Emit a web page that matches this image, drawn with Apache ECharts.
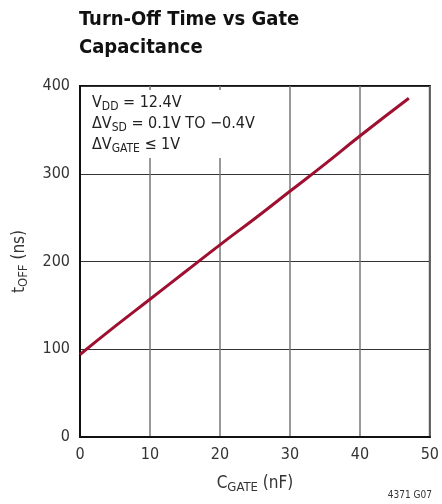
<!DOCTYPE html>
<html>
<head>
<meta charset="utf-8">
<script src="https://cdn.jsdelivr.net/npm/echarts@6/dist/echarts.min.js"></script>
<style>
  html, body { margin: 0; padding: 0; background: #fff; }
  #chart { width: 442px; height: 504px; }
</style>
</head>
<body>
<div id="chart"></div>
<script>
// gate capacitance (nF) vs turn-off time (ns)
var cGate = [0, 5, 10, 15, 20, 25, 30, 35, 40, 47];
var tOff = [94, 126, 157, 188, 219, 249, 280, 311, 343, 386];
var xTicks = [0, 10, 20, 30, 40, 50];
var yTicks = [0, 100, 200, 300, 400];

var font = "'Liberation Sans Narrow', 'DejaVu Sans Condensed', 'Liberation Sans', sans-serif";
var chart = echarts.init(document.getElementById('chart'));

var points = cGate.map(function (c, i) { return [c, tOff[i]]; });

var subRich = function (main, sub) {
  return {
    m: { fontFamily: font, fontSize: main, color: '#333' },
    s: { fontFamily: font, fontSize: sub, color: '#333', lineHeight: sub, verticalAlign: 'bottom' }
  };
};

var option = {
  backgroundColor: '#fff',
  animation: false,
  title: {
    text: 'Turn-Off Time vs Gate\nCapacitance',
    left: 79,
    top: 6,
    padding: 0,
    textStyle: {
      fontFamily: font,
      fontWeight: 'bold',
      fontSize: 20,
      lineHeight: 28,
      color: '#111'
    }
  },
  grid: {
    left: 80,
    right: 8,
    top: 86,
    bottom: 67,
    show: true,
    borderColor: '#111',
    borderWidth: 2,
    backgroundColor: 'transparent'
  },
  xAxis: {
    type: 'value',
    min: 0,
    max: 50,
    interval: 10,
    name: '{m|C}{s|GATE}{m| (nF)}',
    nameLocation: 'middle',
    nameGap: 37,
    nameTextStyle: { lineHeight: 20, rich: subRich(17, 13) },
    axisLine: { lineStyle: { color: '#111', width: 2 } },
    axisTick: { show: false },
    axisLabel: { fontFamily: font, fontSize: 16, color: '#333', margin: 10 },
    splitLine: { lineStyle: { color: '#777', width: 1.5 } }
  },
  yAxis: {
    type: 'value',
    min: 0,
    max: 400,
    interval: 100,
    name: '{m|t}{s|OFF}{m| (ns)}',
    nameLocation: 'middle',
    nameGap: 50,
    nameTextStyle: { lineHeight: 20, rich: subRich(17, 13) },
    axisLine: { lineStyle: { color: '#111', width: 2 } },
    axisTick: { show: false },
    axisLabel: { fontFamily: font, fontSize: 16, color: '#333', margin: 10 },
    splitLine: { lineStyle: { color: '#333', width: 1.2 } }
  },
  graphic: [
    {
      type: 'rect',
      z: 5,
      shape: { x: 82, y: 90, width: 182, height: 68 },
      style: { fill: '#fff' }
    },
    {
      type: 'text',
      z: 6,
      left: 92,
      top: 92,
      style: {
        text: '{m|V}{s|DD}{m| = 12.4V}\n{m|ΔV}{s|SD}{m| = 0.1V TO −0.4V}\n{m|ΔV}{s|GATE}{m| ≤ 1V}',
        lineHeight: 21,
        rich: {
          m: { fontFamily: font, fontSize: 16, fill: '#222' },
          s: { fontFamily: font, fontSize: 12, fill: '#222', lineHeight: 12, verticalAlign: 'bottom' }
        }
      }
    },
    {
      type: 'text',
      right: 10,
      top: 490,
      style: {
        text: '4371 G07',
        fontFamily: font,
        fontSize: 10,
        fill: '#333'
      }
    }
  ],
  series: [
    {
      type: 'line',
      data: points,
      showSymbol: false,
      smooth: true,
      z: 10,
      lineStyle: { color: '#9e0f30', width: 3 }
    }
  ]
};

chart.setOption(option);
</script>
</body>
</html>
